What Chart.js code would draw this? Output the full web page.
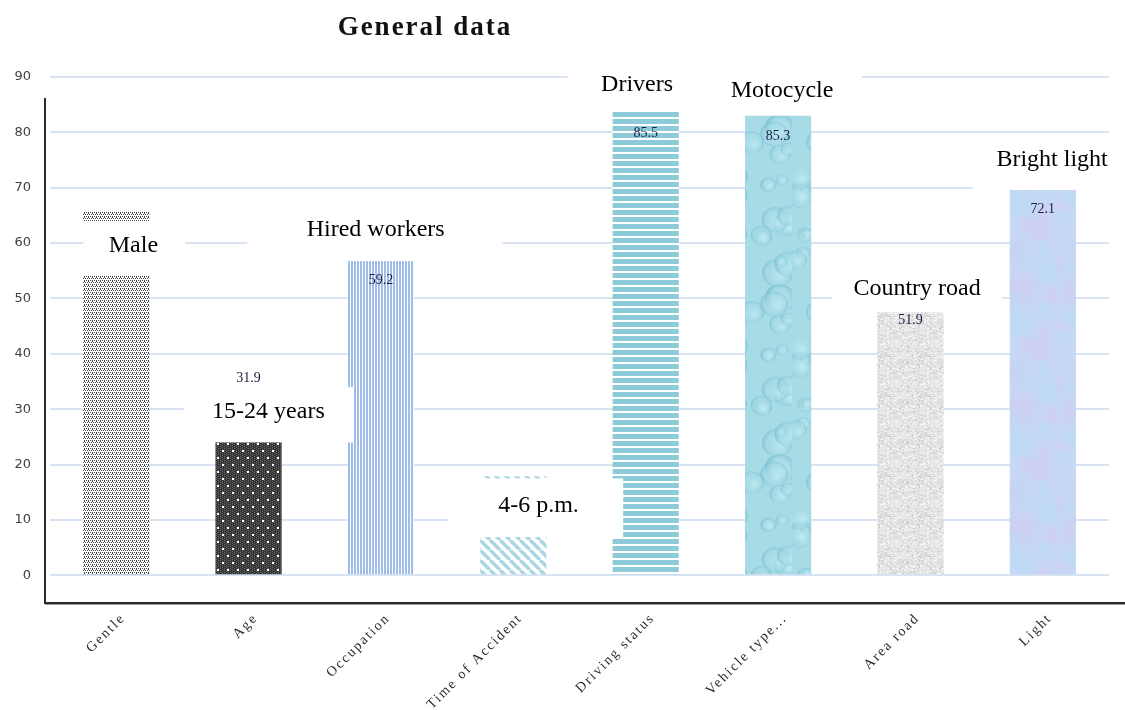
<!DOCTYPE html>
<html>
<head>
<meta charset="utf-8">
<title>General data</title>
<script src="https://cdn.jsdelivr.net/npm/chart.js@4.4.1/dist/chart.umd.min.js"></script>
<style>
  body{margin:0;background:#fff;}
  #wrap{width:1125px;height:710px;position:relative;}
</style>
</head>
<body>
<div id="wrap"><canvas id="chart"></canvas></div>
<script>

// ============================
// DATA
// ============================

const categories = ["Gentle","Age","Occupation","Time of Accident","Driving status","Vehicle type...","Area road","Light"];
const values = [65.8, 31.9, 59.2, 17.9, 85.5, 85.3, 51.9, 72.1];
const noteLabels = ["Male","15-24 years","Hired workers","4-6 p.m.","Drivers","Motocycle","Country road","Bright light"];
const yTicks = [0,10,20,30,40,50,60,70,80,90];


// ============================
// FILL PATTERNS
// ============================

const canvas = document.getElementById("chart");
const mainCtx = canvas.getContext("2d");

function tile(w,h,draw){
  const c = document.createElement("canvas");
  c.width = w; c.height = h;
  draw(c.getContext("2d"),w,h);
  return mainCtx.createPattern(c,"repeat");
}

// texture noise only (not data)
function noise(i){
  const x = Math.sin(i*127.1+311.7)*43758.5453;
  return x-Math.floor(x);
}

const dotted = tile(4,4,(g,w,h)=>{
  g.fillStyle="#ffffff"; g.fillRect(0,0,w,h);
  g.fillStyle="#454545";
  [[0,0],[2,0],[1,2],[3,2],[0,1]].forEach(p=>g.fillRect(p[0],p[1],1,1));
});

const darkDots = tile(10,14,(g,w,h)=>{
  g.fillStyle="#353535"; g.fillRect(0,0,w,h);
  g.fillStyle="#676767";
  for(let x=0;x<w;x+=2) for(let y=(x/2)%2;y<h;y+=2) g.fillRect(x,y,1,1);
  g.fillStyle="#ffffff";
  g.fillRect(2,2,2,2);
  g.fillRect(7,9,2,2);
});

const vStripes = tile(3,1,(g)=>{
  g.fillStyle="#ffffff"; g.fillRect(0,0,3,1);
  g.fillStyle="#9fbde8"; g.fillRect(0,0,2,1);
});

const diagStripes = tile(10,10,(g)=>{
  g.fillStyle="#ffffff"; g.fillRect(0,0,10,10);
  g.strokeStyle="#a8d6e3"; g.lineWidth=3.5;
  [-10,0,10].forEach(k=>{
    g.beginPath(); g.moveTo(k,0); g.lineTo(k+10,10); g.stroke();
  });
});

const hStripes = tile(1,7,(g)=>{
  g.fillStyle="#ffffff"; g.fillRect(0,0,1,7);
  g.fillStyle="#8ecbd9"; g.fillRect(0,0,1,5);
});

const drops = tile(66,170,(g,w,h)=>{
  g.fillStyle="#a7dbe6"; g.fillRect(0,0,w,h);
  for(let k=0;k<26;k++){
    const x=noise(k)*w, y=noise(k+100)*h, r=5+noise(k+200)*11;
    const gr=g.createRadialGradient(x+r*0.25,y+r*0.25,0,x,y,r);
    gr.addColorStop(0,"rgba(200,238,245,0.7)");
    gr.addColorStop(0.75,"rgba(160,216,228,0.5)");
    gr.addColorStop(1,"rgba(110,182,202,0.6)");
    g.fillStyle=gr;
    g.beginPath(); g.ellipse(x,y,r,r*0.9,0,0,Math.PI*2); g.fill();
  }
});

const stone = tile(40,40,(g,w,h)=>{
  g.fillStyle="#e8e8e8"; g.fillRect(0,0,w,h);
  for(let k=0;k<500;k++){
    const x=Math.floor(noise(k+300)*w), y=Math.floor(noise(k+900)*h);
    const s=noise(k+1500);
    g.fillStyle = s<0.5 ? "#d6d6d6" : (s<0.8 ? "#f7f7f7" : "#c8c8c8");
    g.fillRect(x,y,1+Math.round(noise(k+2100)),1);
  }
});

const mist = tile(66,120,(g,w,h)=>{
  g.fillStyle="#c6d8f5"; g.fillRect(0,0,w,h);
  for(let k=0;k<30;k++){
    const x=noise(k+3000)*w, y=noise(k+3100)*h, r=8+noise(k+3200)*14;
    const col = noise(k+3300)<0.5 ? "212,200,240" : "186,220,246";
    const gr=g.createRadialGradient(x,y,0,x,y,r);
    gr.addColorStop(0,`rgba(${col},0.55)`);
    gr.addColorStop(1,`rgba(${col},0)`);
    g.fillStyle=gr; g.fillRect(x-r,y-r,2*r,2*r);
  }
});

const barFills = [dotted,darkDots,vStripes,diagStripes,hStripes,drops,stone,mist];


// ============================
// DECORATION PLUGIN
// ============================

const decor = {
  id:"decor",

  beforeDraw(chart){
    const c = chart.ctx;
    c.save();
    c.fillStyle="#ffffff";
    c.fillRect(0,0,chart.width,chart.height);
    c.restore();
  },

  afterDatasetsDraw(chart,args,opts){
    const c = chart.ctx;
    const meta = chart.getDatasetMeta(0);
    c.save();
    c.font="14px 'Liberation Serif'";
    c.fillStyle="#1d1d45";
    c.textAlign="center";
    c.textBaseline="middle";
    meta.data.forEach((bar,i)=>{
      c.fillText(values[i].toFixed(1), bar.x, bar.y + opts.labelShift[i]);
    });
    c.restore();
  },

  afterDraw(chart,args,opts){
    const c = chart.ctx;
    const xs = chart.scales.x, ys = chart.scales.y;
    const catW = xs.width / categories.length;
    const area = chart.chartArea;

    // white note boxes with text
    c.save();
    opts.notes.forEach((n,i)=>{
      const cx = xs.getPixelForValue(i);
      const left = cx + n.x0*catW, right = cx + n.x1*catW;
      const top = ys.getPixelForValue(n.v1), bottom = ys.getPixelForValue(n.v0);
      c.fillStyle="#ffffff";
      c.fillRect(left,top,right-left,bottom-top);
      c.fillStyle="#000000";
      c.font="24px 'Liberation Serif'";
      c.textAlign="center";
      c.textBaseline="middle";
      c.fillText(noteLabels[i], cx + n.tx*catW, ys.getPixelForValue(n.tv));
    });
    c.restore();

    // axis lines
    const axisX = area.left - 5;
    c.save();
    c.strokeStyle="#2a2a2a";
    c.lineWidth=2;
    c.beginPath();
    c.moveTo(axisX, ys.getPixelForValue(86.2));
    c.lineTo(axisX, area.bottom);
    c.stroke();
    c.beginPath();
    c.moveTo(axisX-1, area.bottom);
    c.lineTo(chart.width, area.bottom);
    c.stroke();
    c.strokeStyle="#9a9a9a";
    c.lineWidth=1;
    c.beginPath();
    c.moveTo(axisX, area.bottom+1.5);
    c.lineTo(chart.width, area.bottom+1.5);
    c.stroke();
    c.restore();

    // category labels, rotated and letter-spaced like the source
    c.save();
    c.font="14px 'Liberation Serif'";
    c.fillStyle="#2b2b2b";
    c.letterSpacing="1.9px";
    c.textAlign="right";
    c.textBaseline="middle";
    categories.forEach((lab,i)=>{
      c.save();
      c.translate(xs.getPixelForValue(i)+7, area.bottom+13);
      c.rotate(-Math.PI/4);
      c.fillText(lab,0,0);
      c.restore();
    });
    c.restore();

    // title
    c.save();
    c.font="bold 27px 'Liberation Serif'";
    c.letterSpacing="2px";
    c.fillStyle="#111111";
    c.textAlign="center";
    c.textBaseline="alphabetic";
    c.fillText("General data", 425, 35);
    c.restore();
  }
};


// ============================
// CHART
// ============================

new Chart(canvas,{
  type:"bar",
  data:{
    labels:categories,
    datasets:[{
      data:values,
      backgroundColor:barFills,
      borderWidth:0,
      barPercentage:0.5,
      categoryPercentage:1
    }]
  },
  options:{
    responsive:true,
    maintainAspectRatio:false,
    animation:false,
    layout:{padding:{top:77,left:14,right:16,bottom:107}},
    plugins:{
      legend:{display:false},
      title:{display:false},
      tooltip:{enabled:false},
      decor:{
        labelShift:[32,-20,33,32,31,33,32,33],
        notes:[
          {x0:-0.25,x1:0.52,v0:54.2,v1:64.0,tx:0.13,tv:59.6},
          {x0:-0.49,x1:0.79,v0:24.0,v1:34.0,tx:0.15,tv:29.5},
          {x0:-1.01,x1:0.92,v0:56.75,v1:65.6,tx:-0.04,tv:62.35},
          {x0:-0.49,x1:0.83,v0:6.9,v1:17.5,tx:0.19,tv:12.65},
          {x0:-0.59,x1:0.50,v0:83.7,v1:92.5,tx:-0.065,tv:88.6},
          {x0:-0.50,x1:0.63,v0:83.0,v1:91.5,tx:0.03,tv:87.5},
          {x0:-0.59,x1:0.69,v0:47.5,v1:55.5,tx:0.05,tv:51.7},
          {x0:-0.53,x1:0.55,v0:69.6,v1:77.7,tx:0.07,tv:75.0}
        ]
      }
    },
    scales:{
      x:{
        grid:{display:false},
        border:{display:false},
        ticks:{display:false},
        afterFit(axis){ axis.height = 0; }
      },
      y:{
        min:-5,
        max:90,
        afterBuildTicks(axis){
          axis.ticks = yTicks.map(v=>({value:v}));
        },
        afterFit(axis){ axis.width = 36; },
        grid:{color:"#d8e3f3",lineWidth:2,drawTicks:false},
        border:{display:false},
        ticks:{
          padding:19,
          color:"#404040",
          font:{family:"'DejaVu Sans'",size:13}
        }
      }
    }
  },
  plugins:[decor]
});

</script>
</body>
</html>
